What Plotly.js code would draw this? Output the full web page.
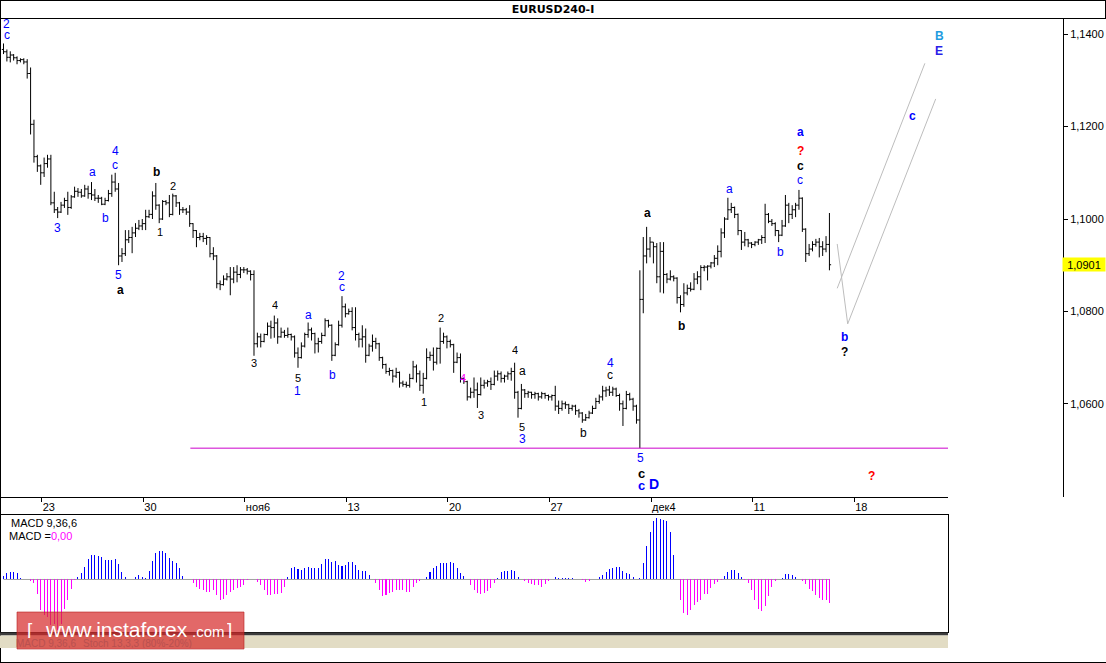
<!DOCTYPE html>
<html><head><meta charset="utf-8">
<script src="https://cdn.plot.ly/plotly-3.0.1.min.js"></script>
<style>html,body{margin:0;padding:0;background:#fff;}#chart{width:1106px;height:663px;}</style>
</head><body><div id="chart"></div>
<script>
const symbol = "EURUSD240-I";
const indicatorName = "MACD 9,36,6";
const indicatorValue = "0,00";
const tabNames = ["MACD 9,36,6", "Stoch 13,3,3 (80%-20%)"];
const weekLabels = ["23","30","ноя6","13","20","27","дек4","11","18"];
const priceTicks = [1.06,1.08,1.10,1.12,1.14];

const open = [
1.1367,1.1362,1.1350,1.1355,1.1349,1.1343,1.1345,1.1340,1.1315,1.1205,
1.1135,1.1115,1.1100,1.1120,1.1130,1.1035,1.1020,1.1015,1.1030,1.1040,
1.1025,1.1048,1.1060,1.1058,1.1050,1.1065,1.1055,1.1052,1.1045,1.1045,
1.1032,1.1040,1.1055,1.1080,1.1065,1.0920,1.0925,1.0955,1.0960,1.0970,
1.0980,1.0985,1.0990,1.1005,1.1010,1.1050,1.1030,1.1000,1.1038,1.1035,
1.1010,1.1050,1.1035,1.1020,1.1020,1.1015,1.0990,1.0975,1.0960,1.0962,
1.0958,1.0960,1.0925,1.0920,1.0860,1.0858,1.0870,1.0875,1.0870,1.0885,
1.0880,1.0890,1.0890,1.0887,1.0880,1.0730,1.0745,1.0735,1.0750,1.0768,
1.0765,1.0775,1.0745,1.0755,1.0748,1.0750,1.0745,1.0710,1.0700,1.0725,
1.0750,1.0760,1.0752,1.0730,1.0735,1.0748,1.0780,1.0770,1.0705,1.0728,
1.0770,1.0810,1.0795,1.0800,1.0765,1.0750,1.0740,1.0745,1.0705,1.0725,
1.0735,1.0730,1.0700,1.0685,1.0670,1.0672,1.0660,1.0668,1.0645,1.0642,
1.0640,1.0655,1.0680,1.0665,1.0640,1.0655,1.0700,1.0705,1.0690,1.0720,
1.0735,1.0745,1.0735,1.0728,1.0690,1.0700,1.0655,1.0648,1.0615,1.0625,
1.0630,1.0620,1.0640,1.0645,1.0648,1.0642,1.0660,1.0665,1.0655,1.0660,
1.0665,1.0670,1.0625,1.0590,1.0630,1.0622,1.0625,1.0620,1.0622,1.0615,
1.0622,1.0618,1.0615,1.0618,1.0595,1.0590,1.0600,1.0598,1.0590,1.0595,
1.0585,1.0580,1.0565,1.0570,1.0580,1.0590,1.0605,1.0615,1.0628,1.0630,
1.0625,1.0632,1.0618,1.0600,1.0590,1.0620,1.0610,1.0595,1.0565,1.0826,
1.0920,1.0935,1.0950,1.0940,1.0875,1.0930,1.0880,1.0870,1.0875,1.0872,
1.0830,1.0815,1.0840,1.0850,1.0848,1.0870,1.0875,1.0895,1.0896,1.0898,
1.0905,1.0915,1.0930,1.0970,1.1000,1.1020,1.1025,1.1010,1.0975,1.0950,
1.0955,1.0948,1.0945,1.0950,1.0955,1.0960,1.1010,1.0995,1.0990,1.0975,
1.0965,1.0985,1.1030,1.1010,1.1020,1.1030,1.1045,1.0978,1.0925,1.0935,
1.0945,1.0950,1.0940,1.0935,1.0945];

const high = [
1.1380,1.1367,1.1363,1.1357,1.1352,1.1348,1.1348,1.1346,1.1328,1.1215,
1.1139,1.1118,1.1133,1.1139,1.1139,1.1059,1.1026,1.1037,1.1046,1.1059,
1.1052,1.1070,1.1067,1.1065,1.1074,1.1072,1.1080,1.1065,1.1052,1.1048,
1.1046,1.1063,1.1096,1.1100,1.1078,1.0937,1.0976,1.0976,1.0983,1.0991,
1.0998,1.1000,1.1020,1.1020,1.1060,1.1078,1.1032,1.1041,1.1041,1.1052,
1.1055,1.1052,1.1037,1.1026,1.1024,1.1030,1.0991,1.0976,1.0970,1.0970,
1.0965,1.0961,1.0939,1.0922,1.0867,1.0878,1.0883,1.0896,1.0896,1.0900,
1.0896,1.0896,1.0894,1.0889,1.0889,1.0754,1.0752,1.0752,1.0776,1.0780,
1.0791,1.0785,1.0765,1.0760,1.0765,1.0752,1.0748,1.0722,1.0733,1.0754,
1.0776,1.0765,1.0754,1.0743,1.0754,1.0785,1.0782,1.0772,1.0733,1.0780,
1.0833,1.0817,1.0806,1.0809,1.0809,1.0754,1.0770,1.0763,1.0730,1.0750,
1.0743,1.0732,1.0702,1.0687,1.0678,1.0674,1.0678,1.0670,1.0650,1.0648,
1.0665,1.0693,1.0685,1.0672,1.0667,1.0720,1.0713,1.0722,1.0722,1.0765,
1.0754,1.0748,1.0739,1.0730,1.0711,1.0709,1.0657,1.0650,1.0635,1.0657,
1.0646,1.0657,1.0652,1.0652,1.0657,1.0672,1.0672,1.0670,1.0663,1.0670,
1.0678,1.0689,1.0628,1.0643,1.0632,1.0628,1.0626,1.0626,1.0624,1.0626,
1.0624,1.0620,1.0620,1.0639,1.0607,1.0607,1.0605,1.0600,1.0598,1.0598,
1.0589,1.0582,1.0578,1.0585,1.0596,1.0613,1.0620,1.0639,1.0637,1.0639,
1.0637,1.0635,1.0622,1.0607,1.0628,1.0624,1.0613,1.0598,1.0889,1.0961,
1.0983,1.0961,1.0950,1.0948,1.0950,1.0950,1.0883,1.0889,1.0878,1.0874,
1.0835,1.0861,1.0858,1.0863,1.0883,1.0887,1.0900,1.0900,1.0900,1.0907,
1.0922,1.0943,1.0980,1.1004,1.1046,1.1035,1.1027,1.1012,1.0976,1.0972,
1.0957,1.0950,1.0952,1.0957,1.0965,1.1033,1.1013,1.1000,1.0993,1.0976,
1.0998,1.1052,1.1035,1.1030,1.1035,1.1063,1.1047,1.0980,1.0946,1.0952,
1.0957,1.0959,1.0952,1.0963,1.1013];

const low = [
1.1357,1.1341,1.1339,1.1343,1.1335,1.1339,1.1335,1.1304,1.1183,1.1122,
1.1102,1.1074,1.1091,1.1111,1.1030,1.1013,1.1002,1.1013,1.1024,1.1009,
1.1022,1.1046,1.1048,1.1046,1.1048,1.1044,1.1041,1.1039,1.1035,1.1030,
1.1030,1.1038,1.1048,1.1059,1.0900,1.0907,1.0920,1.0948,1.0926,1.0961,
1.0976,1.0976,1.0976,1.1002,1.1000,1.1020,1.0991,1.0998,1.1030,1.1004,
1.1008,1.1026,1.1009,1.1013,1.1009,1.0983,1.0959,1.0939,1.0954,1.0950,
1.0944,1.0917,1.0911,1.0850,1.0846,1.0856,1.0867,1.0835,1.0861,1.0863,
1.0872,1.0883,1.0880,1.0867,1.0704,1.0722,1.0722,1.0733,1.0748,1.0741,
1.0743,1.0730,1.0743,1.0743,1.0743,1.0737,1.0700,1.0678,1.0698,1.0722,
1.0743,1.0737,1.0709,1.0711,1.0730,1.0746,1.0765,1.0693,1.0703,1.0726,
1.0765,1.0787,1.0793,1.0759,1.0737,1.0722,1.0722,1.0689,1.0703,1.0713,
1.0719,1.0693,1.0676,1.0665,1.0661,1.0646,1.0656,1.0635,1.0637,1.0635,
1.0635,1.0653,1.0646,1.0628,1.0622,1.0653,1.0693,1.0672,1.0685,1.0687,
1.0730,1.0720,1.0722,1.0667,1.0688,1.0646,1.0643,1.0607,1.0612,1.0613,
1.0591,1.0618,1.0633,1.0637,1.0630,1.0640,1.0650,1.0646,1.0646,1.0652,
1.0650,1.0611,1.0570,1.0588,1.0613,1.0613,1.0611,1.0611,1.0607,1.0611,
1.0611,1.0607,1.0607,1.0585,1.0578,1.0585,1.0589,1.0578,1.0585,1.0576,
1.0570,1.0559,1.0563,1.0568,1.0578,1.0589,1.0600,1.0607,1.0615,1.0617,
1.0617,1.0615,1.0585,1.0552,1.0588,1.0607,1.0585,1.0557,1.0504,1.0796,
1.0904,1.0917,1.0904,1.0861,1.0841,1.0839,1.0861,1.0867,1.0865,1.0817,
1.0798,1.0810,1.0835,1.0843,1.0846,1.0859,1.0846,1.0887,1.0867,1.0893,
1.0896,1.0900,1.0917,1.0959,1.0998,1.1013,1.1002,1.0965,1.0933,1.0941,
1.0939,1.0937,1.0941,1.0944,1.0946,1.0948,1.0991,1.0985,1.0963,1.0950,
1.0963,1.0983,1.0991,1.1000,1.1004,1.1020,1.0972,1.0907,1.0920,1.0930,
1.0940,1.0917,1.0920,1.0928,1.0889];

const close = [
1.1362,1.1350,1.1355,1.1349,1.1343,1.1345,1.1340,1.1315,1.1205,1.1135,
1.1115,1.1100,1.1120,1.1130,1.1035,1.1020,1.1015,1.1030,1.1040,1.1025,
1.1048,1.1060,1.1058,1.1050,1.1065,1.1055,1.1052,1.1045,1.1045,1.1032,
1.1040,1.1055,1.1080,1.1065,1.0920,1.0925,1.0955,1.0960,1.0970,1.0980,
1.0985,1.0990,1.1005,1.1010,1.1050,1.1030,1.1000,1.1038,1.1035,1.1010,
1.1050,1.1035,1.1020,1.1020,1.1015,1.0990,1.0975,1.0960,1.0962,1.0958,
1.0960,1.0925,1.0920,1.0860,1.0858,1.0870,1.0875,1.0870,1.0885,1.0880,
1.0890,1.0890,1.0887,1.0880,1.0730,1.0745,1.0735,1.0750,1.0768,1.0765,
1.0775,1.0745,1.0755,1.0748,1.0750,1.0745,1.0710,1.0700,1.0725,1.0750,
1.0760,1.0752,1.0730,1.0735,1.0748,1.0780,1.0770,1.0705,1.0728,1.0770,
1.0810,1.0795,1.0800,1.0765,1.0750,1.0740,1.0745,1.0705,1.0725,1.0735,
1.0730,1.0700,1.0685,1.0670,1.0672,1.0660,1.0668,1.0645,1.0642,1.0640,
1.0655,1.0680,1.0665,1.0640,1.0655,1.0700,1.0705,1.0690,1.0720,1.0735,
1.0745,1.0735,1.0728,1.0690,1.0700,1.0655,1.0648,1.0615,1.0625,1.0630,
1.0620,1.0640,1.0645,1.0648,1.0642,1.0660,1.0665,1.0655,1.0660,1.0665,
1.0670,1.0625,1.0590,1.0630,1.0622,1.0625,1.0620,1.0622,1.0615,1.0622,
1.0618,1.0615,1.0618,1.0595,1.0590,1.0600,1.0598,1.0590,1.0595,1.0585,
1.0580,1.0565,1.0570,1.0580,1.0590,1.0605,1.0615,1.0628,1.0630,1.0625,
1.0632,1.0618,1.0600,1.0590,1.0620,1.0610,1.0595,1.0565,1.0826,1.0920,
1.0935,1.0950,1.0940,1.0875,1.0930,1.0880,1.0870,1.0875,1.0872,1.0830,
1.0815,1.0840,1.0850,1.0848,1.0870,1.0875,1.0895,1.0896,1.0898,1.0905,
1.0915,1.0930,1.0970,1.1000,1.1020,1.1025,1.1010,1.0975,1.0950,1.0955,
1.0948,1.0945,1.0950,1.0955,1.0960,1.1010,1.0995,1.0990,1.0975,1.0965,
1.0985,1.1030,1.1010,1.1020,1.1030,1.1045,1.0978,1.0925,1.0935,1.0945,
1.0950,1.0940,1.0935,1.0945,1.0901];

const macd = [
3.3,6.7,7.3,7.7,6,1,0.3,0,-1.5,-4,
-14,-30.7,-35.7,-37,-45,-44,-50,-44,-29,-20.7,
-9.7,-0.3,2,6.7,12.7,20.3,24.3,24.3,23.7,22.7,
19.3,19.3,19.3,20.3,15.3,7,2,0.3,0.3,2,
4.3,2,1,8.3,18.3,26,28.3,28.3,26,21,
18.3,16.7,11,3.3,0.7,0,-4,-7.3,-9.7,-10.7,
-12.3,-12.3,-10.7,-15.7,-20.7,-19,-15.7,-12.3,-10.7,-8.3,
-7.3,-5.7,-0.7,0,0.3,-2.3,-5.7,-10.7,-15.7,-15.7,
-14.7,-14.7,-13,-7.3,2,11,12.7,10,9.3,11,
12,11,11,11.7,15.3,20.3,20.3,17,18.3,14.3,
13.3,14.3,17.7,17.7,14.3,9.3,8.7,8.7,4.3,0,
-3.3,-10.7,-16.7,-15,-13.3,-12.3,-10.7,-11,-10.7,-12.3,
-12.3,-8,-4,-1.3,0,2.7,7.7,11,13.3,16.7,
16.7,16.7,17.7,16.7,11.7,6.7,3.3,0,-5.7,-10.7,
-13.3,-14,-13,-11.7,-9,-3.3,1,7.7,8.3,8.3,
9.3,8.7,2,0,-1.7,-4,-5,-5.7,-5.7,-7.3,
-4.7,-1.3,0,2,1,1,1,1,1,0.3,
0,-0.7,-2.3,-1.3,0,0,2,4,7.3,10,
11.3,12.7,12,8.3,6,5.3,2,0,1.7,16.7,
33.3,47,58.7,61,60,59.3,58.3,47.3,24.3,0,
-20.7,-33,-35,-30.7,-25.7,-22.3,-20,-14,-14,-8.3,
-5,-2.3,-0.7,3.3,7.7,9.3,9.3,6.7,2,-0.7,
-4,-10.7,-20.7,-29,-31.3,-26.7,-16.7,-7.3,-1.3,0,
1,5.3,5.3,4.3,2,0.3,-1.3,-4.7,-9.7,-11.7,
-15.7,-18,-20,-20.7,-23.3];

// wave-count labels: text, bar number, price
const waveText  = ["2","c","3","a","b","4","c","5","a","b","2","1","3","4","a","5","1","b","2","c","1","2","4","3","4","a","5","3","b","4","c","5","c","c","D","a","b","a","b","a","?","c","c","b","?","c","B","E","?"];
const waveBar   = [0.95,1.03,16.0,26.35,30.07,32.94,33.03,34.12,34.42,45.26,50.07,46.15,74.0,80.3,90.04,87.0,87.0,97.13,99.9,100.1,124.3,129.2,135.7,141.2,151.2,153.3,153.3,153.2,171.3,179.2,179.2,188.3,188.5,188.5,192.3,190.4,200.4,214.4,229.5,235.4,235.4,235.4,235.4,248.5,248.4,268.6,276.5,276.5,256.3];
const wavePrice = [1.1422,1.1399,1.0980,1.1102,1.1003,1.1147,1.1118,1.0879,1.0846,1.1101,1.1073,1.0973,1.0689,1.0815,1.0793,1.0657,1.0628,1.0662,1.0877,1.0852,1.0604,1.0787,1.0656,1.0576,1.0717,1.0672,1.0550,1.0524,1.0536,1.0689,1.0663,1.0483,1.0450,1.0424,1.0426,1.1014,1.0768,1.1066,1.0929,1.1188,1.1147,1.1115,1.1085,1.0745,1.0712,1.1224,1.1397,1.1364,1.0443];
// styles for the labels (one entry per label)
const waveInk   = "uuuuuuuukkkkkkukuuuukkmkkkkukukukuukkuuurkuukusvr";
const waveSize  = [12,12,12,12,12,12,12,12,12,12,11,11,11,11,12,11,12,12,12,12,11,11,11,11,11,12,11,12,12,12,12,12,13,13,14,12,12,12,12,12,12,12,12,12,12,12,12,12,12];
const waveBold  = "00000000" + "11" + "0000000000000000000000" + "11111" + "00" + "111" + "0" + "111111";

// projected wave paths (bar number, price)
const pathZigBar = [246.3, 249.4, 275.4];
const pathZigPrice = [1.0946, 1.0773, 1.1260];
const pathParBar = [246.3, 272.2];
const pathParPrice = [1.0850, 1.1337];

const W = 1106, H = 663;
const PX = v => v / W;
const PY = v => 1 - v / H;
const inks = {u:"#0000ff", k:"#000000", r:"#ff0000", m:"#ff00ff", s:"#1e9be0", v:"#2a1ee8"};
const FONT = "Liberation Sans, Arial, sans-serif";

const bars = close.map((_, i) => i);
const xRange = [-1.034, 279.03];
const support = Math.min(...low);
const lastClose = close[close.length - 1];

const traces = [
  {type:"ohlc", x:bars, open:open, high:high, low:low, close:close, xaxis:"x", yaxis:"y",
   increasing:{line:{color:"#000", width:1}}, decreasing:{line:{color:"#000", width:1}},
   tickwidth:0.5, hoverinfo:"skip", showlegend:false},
  {type:"scatter", mode:"lines", x:pathZigBar, y:pathZigPrice, xaxis:"x", yaxis:"y",
   line:{color:"#bdbdbd", width:1}, hoverinfo:"skip", showlegend:false},
  {type:"scatter", mode:"lines", x:pathParBar, y:pathParPrice, xaxis:"x", yaxis:"y",
   line:{color:"#bdbdbd", width:1}, hoverinfo:"skip", showlegend:false},
  {type:"bar", x:bars, y:macd, xaxis:"x2", yaxis:"y2", width:0.3,
   marker:{color:macd.map(v => v >= 0 ? "#0000ff" : "#ff00ff"), line:{width:0}},
   hoverinfo:"skip", showlegend:false}
];

const annotations = waveText.map((t, i) => ({
  x: waveBar[i], y: wavePrice[i], xref:"x", yref:"y", showarrow:false,
  text: waveBold[i] === "1" ? "<b>" + t + "</b>" : t,
  xanchor:"center", yanchor:"middle", height: waveSize[i] - 2, borderpad:0,
  font:{family:FONT, size:waveSize[i], color:inks[waveInk[i]]}
}));

annotations.push(
  {xref:"paper", yref:"y", x:PX(1062), y:lastClose, xanchor:"left", yanchor:"middle", showarrow:false,
   text:lastClose.toFixed(4).replace(".", ","), bgcolor:"#ffff00", width:42, height:13, borderpad:0,
   font:{family:FONT, size:11, color:"#000"}},
  {xref:"paper", yref:"paper", x:PX(9), y:PY(523), xanchor:"left", yanchor:"middle", showarrow:false,
   text:indicatorName, font:{family:FONT, size:11, color:"#000"}},
  {xref:"paper", yref:"paper", x:PX(7), y:PY(535.5), xanchor:"left", yanchor:"middle", showarrow:false,
   text:"MACD =<span style='color:#ff00ff'>" + indicatorValue + "</span>", font:{family:FONT, size:11, color:"#000"}},
  {xref:"paper", yref:"paper", x:PX(15), y:PY(643), xanchor:"left", yanchor:"middle", showarrow:false,
   height:10, borderpad:0,
   text:tabNames[0], font:{family:FONT, size:10, color:"#b85050"}},
  {xref:"paper", yref:"paper", x:PX(82), y:PY(643), xanchor:"left", yanchor:"middle", showarrow:false,
   height:10, borderpad:0,
   text:tabNames[1], font:{family:FONT, size:10, color:"#b85050"}},
  {xref:"paper", yref:"paper", x:PX(30), y:PY(629), xanchor:"center", yanchor:"middle", showarrow:false,
   height:17, borderpad:0, text:"[", font:{family:FONT, size:19, color:"#ffffff"}},
  {xref:"paper", yref:"paper", x:PX(44), y:PY(629), xanchor:"left", yanchor:"middle", showarrow:false,
   height:17, borderpad:0, text:"www.instaforex", font:{family:FONT, size:21, color:"#ffffff"}},
  {xref:"paper", yref:"paper", x:PX(191), y:PY(631), xanchor:"left", yanchor:"middle", showarrow:false,
   height:12, borderpad:0, text:".com", font:{family:FONT, size:15, color:"#ffffff"}},
  {xref:"paper", yref:"paper", x:PX(229), y:PY(629), xanchor:"center", yanchor:"middle", showarrow:false,
   height:17, borderpad:0, text:"]", font:{family:FONT, size:19, color:"#ffffff"}}
);

const ln = (x0, y0, x1, y1, color, width) => ({type:"line", xref:"paper", yref:"paper",
  x0:PX(x0), y0:PY(y0), x1:PX(x1), y1:PY(y1), line:{color:color, width:width}});

const shapes = [
  ln(0, 0.5, 1106, 0.5, "#000", 1),
  ln(0, 18.5, 1106, 18.5, "#000", 1),
  ln(0.5, 0, 0.5, 663, "#000", 1),
  ln(1105.5, 0, 1105.5, 18.5, "#000", 1),
  ln(0, 662.5, 1106, 662.5, "#000", 1),
  {type:"rect", xref:"paper", yref:"paper", x0:0, x1:PX(948), y0:PY(632.5), y1:PY(635.5),
   fillcolor:"#3c3c3c", line:{width:0}},
  {type:"rect", xref:"paper", yref:"paper", x0:0, x1:PX(948), y0:PY(635.5), y1:PY(648),
   fillcolor:"#e2dcc4", line:{width:0}},
  {type:"line", xref:"x", yref:"y", x0:55.2, x1:xRange[1], y0:support, y1:support,
   line:{color:"#cc00cc", width:1}},
  {type:"line", xref:"x2", yref:"y2", x0:0, x1:bars[bars.length-1], y0:0, y1:0,
   line:{color:"#a0a0a0", width:1}, layer:"below"},
  {type:"rect", xref:"paper", yref:"paper", x0:PX(17), x1:PX(244), y0:PY(612), y1:PY(649),
   fillcolor:"rgba(214,40,40,0.70)", line:{color:"rgba(180,30,30,0.6)", width:1}}
];

const layout = {
  width:W, height:H, margin:{l:0, r:0, t:0, b:0, pad:0},
  paper_bgcolor:"#ffffff", plot_bgcolor:"#ffffff", showlegend:false,
  font:{family:FONT, size:11, color:"#000"},
  title:{text:"<b>" + symbol + "</b>", x:PX(553), xanchor:"center", xref:"paper",
         y:PY(9.5), yanchor:"middle", yref:"container",
         font:{family:"DejaVu Sans, sans-serif", size:11, color:"#000"}},
  xaxis:{domain:[0, PX(948)], range:xRange, type:"linear", anchor:"y",
         showline:true, linecolor:"#000", linewidth:1, mirror:false,
         ticks:"outside", ticklen:4, tickcolor:"#000", tickwidth:1,
         tickvals:weekLabels.map((_, i) => 11.3 + 30 * i), ticktext:weekLabels,
         ticklabelposition:"outside right", tickfont:{family:FONT, size:11, color:"#000"},
         showgrid:false, zeroline:false, rangeslider:{visible:false}, fixedrange:true},
  yaxis:{domain:[PY(497), PY(18)], range:[1.03983, 1.14351], anchor:"free", position:PX(1063),
         side:"right", showline:true, linecolor:"#000", linewidth:1,
         ticks:"outside", ticklen:4, tickcolor:"#000",
         tickvals:priceTicks, ticktext:priceTicks.map(v => v.toFixed(4).replace(".", ",")),
         tickfont:{family:FONT, size:11, color:"#000"},
         showgrid:false, zeroline:false, fixedrange:true},
  xaxis2:{domain:[0, PX(948)], range:xRange, type:"linear", anchor:"y2",
          showline:true, mirror:true, linecolor:"#000", linewidth:1,
          showticklabels:false, ticks:"", showgrid:false, zeroline:false, fixedrange:true},
  yaxis2:{domain:[PY(632), PY(515)], range:[-52.4, 64.3], anchor:"x2",
          showline:true, mirror:true, linecolor:"#000", linewidth:1,
          showticklabels:false, ticks:"", showgrid:false, zeroline:false, fixedrange:true},
  bargap:0,
  annotations:annotations,
  shapes:shapes
};

Plotly.newPlot("chart", traces, layout, {staticPlot:true, displayModeBar:false});
</script>
</body></html>
